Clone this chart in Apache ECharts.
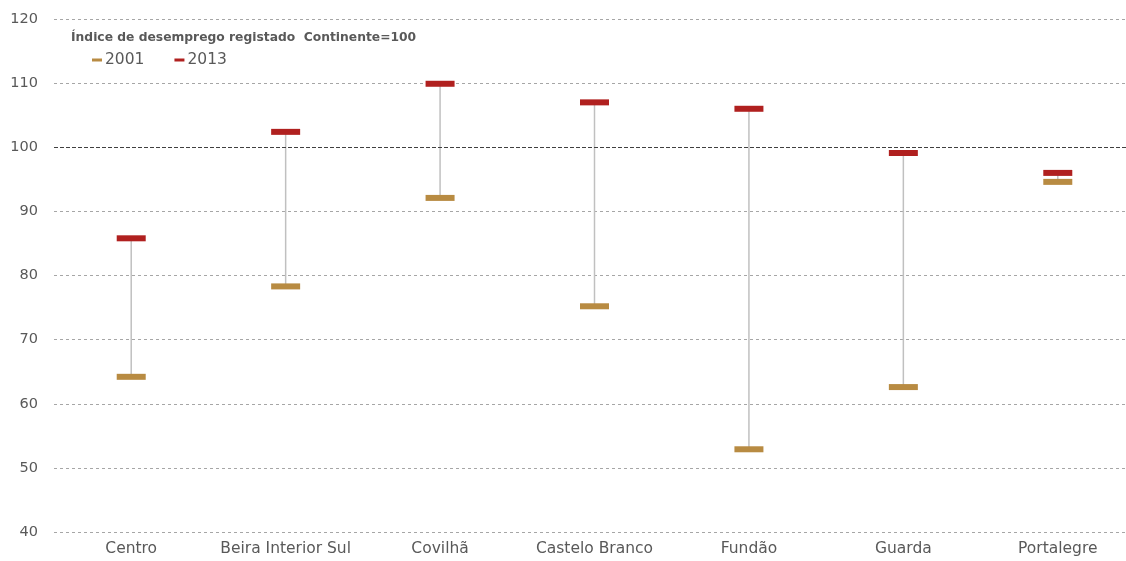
<!DOCTYPE html>
<html>
<head>
<meta charset="utf-8">
<script src="https://cdn.jsdelivr.net/npm/echarts@6/dist/echarts.min.js"></script>
<style>
  html, body { margin: 0; padding: 0; background: #fff; }
  #chart { width: 1126px; height: 561px; }
</style>
</head>
<body>
<div id="chart"></div>
<script>
// dados
var categorias = ['Centro', 'Beira Interior Sul', 'Covilhã', 'Castelo Branco', 'Fundão', 'Guarda', 'Portalegre'];
var valores2001 = [64.2, 78.3, 92.1, 75.2, 52.9, 62.6, 94.6];
var valores2013 = [85.8, 102.4, 109.9, 107.0, 106.0, 99.1, 96.0];
var ticksY = [40, 50, 60, 70, 80, 90, 100, 110, 120];

var fonte = 'DejaVu Sans';

window.onload = function() {
	drawChart();
}

function drawChart () {
	var myChart = echarts.init(document.getElementById('chart'));

	// pares [índice, 2001, 2013] para as linhas verticais
	var pares = categorias.map(function (c, i) { return [i, valores2001[i], valores2013[i]]; });

	var option = {
		animation: false,
		textStyle: { fontFamily: fonte },
		title: {
			text: 'Índice de desemprego registado  Continente=100',
			left: 66,
			top: 27,
			textStyle: { fontSize: 12.3, fontWeight: 'bold', color: '#595959', fontFamily: fonte }
		},
		legend: {
			left: 87,
			top: 47,
			itemWidth: 10,
			itemHeight: 3,
			itemGap: 30,
			icon: 'rect',
			textStyle: { fontSize: 15.5, color: '#595959', fontFamily: fonte, padding: [0, 0, 0, -2] },
			data: ['2001', '2013']
		},
		grid: { left: 54, top: 19, width: 1081, bottom: 29, outerBoundsMode: 'none' },
		xAxis: {
			type: 'category',
			data: categorias,
			axisLine: { show: false },
			axisTick: { show: false },
			axisLabel: { color: '#595959', fontSize: 15.5, fontFamily: fonte, margin: 9, interval: 0 }
		},
		yAxis: {
			type: 'value',
			min: ticksY[0],
			max: ticksY[ticksY.length - 1],
			interval: 10,
			axisLine: { show: false },
			axisTick: { show: false },
			axisLabel: { color: '#595959', fontSize: 14.5, fontFamily: fonte, margin: 16 },
			splitLine: { lineStyle: { color: '#a6a6a6', type: [3, 3], width: 1 } }
		},
		series: [
			{
				type: 'custom',
				silent: true,
				z: 1,
				data: pares,
				renderItem: function (params, api) {
					var p1 = api.coord([api.value(0), api.value(1)]);
					var p2 = api.coord([api.value(0), api.value(2)]);
					return {
						type: 'line',
						shape: { x1: p1[0], y1: p1[1], x2: p2[0], y2: p2[1] },
						style: { stroke: '#c0c0c0', lineWidth: 1.5 }
					};
				},
				markLine: {
					silent: true,
					symbol: 'none',
					label: { show: false },
					lineStyle: { color: '#404040', type: [4, 2], width: 1 },
					data: [{ yAxis: 100 }]
				}
			},
			{
				name: '2001',
				type: 'scatter',
				symbol: 'rect',
				symbolSize: [29, 6],
				z: 3,
				itemStyle: { color: '#b88b42', opacity: 1 },
				data: valores2001
			},
			{
				name: '2013',
				type: 'scatter',
				symbol: 'rect',
				symbolSize: [29, 6],
				z: 3,
				itemStyle: { color: '#b0201f', opacity: 1 },
				data: valores2013
			}
		]
	};

	myChart.setOption(option);
}
</script>
</body>
</html>
